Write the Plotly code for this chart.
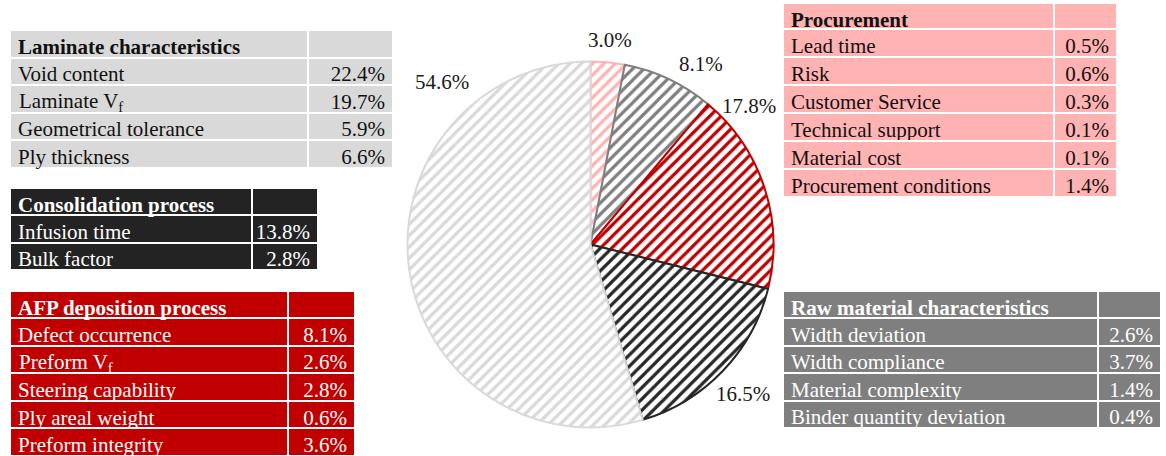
import plotly.graph_objects as go

W, H = 1166, 456
FONT = "Liberation Serif"

# Pie: share of each factor group (clockwise from 12 o'clock)
groups = ["Procurement", "Raw material characteristics", "AFP deposition process",
          "Consolidation process", "Laminate characteristics"]
group_share = [3.0, 8.1, 17.8, 16.5, 54.6]
group_colors = ["#ffb3b3", "#7f7f7f", "#c00000", "#262626", "#d9d9d9"]

# Factor tables
laminate_items = ["Void content", "Laminate V<sub>f</sub>", "Geometrical tolerance", "Ply thickness"]
laminate_values = [22.4, 19.7, 5.9, 6.6]

consolidation_items = ["Infusion time", "Bulk factor"]
consolidation_values = [13.8, 2.8]

afp_items = ["Defect occurrence", "Preform V<sub>f</sub>", "Steering capability",
             "Ply areal weight", "Preform integrity"]
afp_values = [8.1, 2.6, 2.8, 0.6, 3.6]

procurement_items = ["Lead time", "Risk", "Customer Service", "Technical support",
                     "Material cost", "Procurement conditions"]
procurement_values = [0.5, 0.6, 0.3, 0.1, 0.1, 1.4]

raw_items = ["Width deviation", "Width compliance", "Material complexity",
             "Binder quantity deviation"]
raw_values = [2.6, 3.7, 1.4, 0.4]

fig = go.Figure()

# ---- pie -------------------------------------------------------------
cx, cy, r = 590.5, 244.5, 183
fig.add_trace(go.Pie(
    labels=groups,
    values=group_share,
    sort=False,
    direction="clockwise",
    rotation=0,
    textinfo="none",
    hoverinfo="label+percent",
    showlegend=False,
    domain=dict(x=[(cx - r) / W, (cx + r) / W], y=[1 - (cy + r) / H, 1 - (cy - r) / H]),
    marker=dict(
        colors=["white"] * len(groups),
        line=dict(color=group_colors, width=2),
        pattern=dict(shape="/", fgcolor=group_colors, fgopacity=1, bgcolor="white",
                     size=8, solidity=0.4, fillmode="replace"),
    ),
))

# label anchor points around the pie (pixels)
label_pos = [(610, 40), (701, 64), (749, 106), (743, 394), (442, 82)]
for v, (px, py) in zip(group_share, label_pos):
    fig.add_annotation(x=px / W, y=1 - py / H, xref="paper", yref="paper",
                       text=f"{v:.1f}%", showarrow=False,
                       xanchor="center", yanchor="middle",
                       font=dict(family=FONT, size=21, color="#1a1a1a"))


# ---- tables ----------------------------------------------------------
TABLE_FONT_SIZE = 21
TEXT_PAD = 8       # go.Table's built-in horizontal cell padding
TEXT_DROP = 17     # distance from a row's top edge to the middle of its text


def add_table(title, items, values, x0, x1, split, top, head_h, row_h, fill, color):
    bottom = top + head_h + row_h * len(items) + 2
    y0 = max(0.0, 1 - bottom / H)
    font = dict(family=FONT, size=TABLE_FONT_SIZE, color=color)
    # labels that need sub/superscript markup are written as annotations on
    # top of their (blank) cells so that the table rows keep a fixed height
    plain = [("" if "<" in s else s) for s in items]
    fig.add_trace(go.Table(
        domain=dict(x=[x0 / W, x1 / W], y=[y0, 1 - top / H]),
        columnwidth=[split - x0, x1 - split],
        header=dict(values=[title, ""], fill_color=fill,
                    line=dict(color="white", width=2), align=["left", "right"],
                    height=head_h, font=dict(font, weight="bold")),
        cells=dict(values=[plain, [f"{v:.1f}%" for v in values]], fill_color=fill,
                   line=dict(color="white", width=2), align=["left", "right"],
                   height=row_h, font=font),
    ))
    for i, s in enumerate(items):
        if "<" in s:
            row_top = top + head_h + i * row_h
            fig.add_annotation(x=(x0 + TEXT_PAD) / W, y=1 - (row_top + TEXT_DROP) / H,
                               xref="paper", yref="paper", text=s, showarrow=False,
                               xanchor="left", yanchor="middle", borderpad=0,
                               font=font)


add_table("Laminate characteristics", laminate_items, laminate_values,
          10, 393, 307.5, 30, 27.5, 27.6, "#d9d9d9", "#111111")
add_table("Consolidation process", consolidation_items, consolidation_values,
          10, 318, 251.5, 188, 27, 27.5, "#232323", "white")
add_table("AFP deposition process", afp_items, afp_values,
          10, 355, 288, 291, 27, 27.6, "#c00000", "white")
add_table("Procurement", procurement_items, procurement_values,
          783, 1118, 1054.5, 3, 26, 28, "#ffb3b3", "#111111")
add_table("Raw material characteristics", raw_items, raw_values,
          783, 1161, 1098, 291, 27, 27.5, "#7f7f7f", "white")

fig.update_layout(
    width=W, height=H,
    margin=dict(l=0, r=0, t=0, b=0),
    paper_bgcolor="white",
    plot_bgcolor="white",
    font=dict(family=FONT),
)

fig.write_html("out.html")
